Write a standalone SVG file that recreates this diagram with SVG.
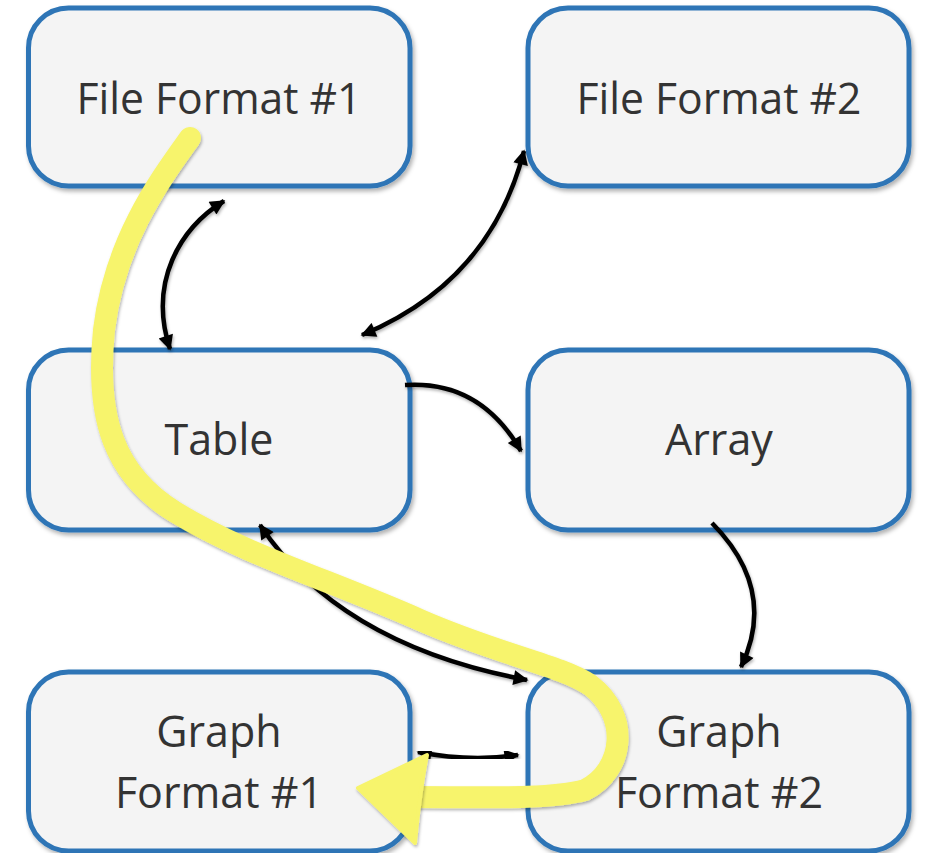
<svg xmlns="http://www.w3.org/2000/svg" width="925" height="853" viewBox="0 0 925 853">
<defs>
<style>
.box{fill:#f4f4f4;stroke:#2e75b6;stroke-width:5;filter:url(#sh)}
.lbl{font-family:"Open Sans","Noto Sans","Liberation Sans",sans-serif;font-size:43px;fill:#333;text-anchor:middle}
.con{fill:none;stroke:#000;stroke-width:4.5;filter:url(#sh2)}
.hl{fill:none;stroke:#f7f46c;stroke-width:22;stroke-linecap:round;stroke-linejoin:round;filter:url(#sh2)}
</style>
<filter id="sh" x="-10%" y="-10%" width="120%" height="130%">
<feDropShadow dx="2" dy="3" stdDeviation="2" flood-color="#000" flood-opacity="0.3"/>
</filter>
<filter id="sh2" x="-10%" y="-10%" width="120%" height="120%">
<feDropShadow dx="1" dy="2" stdDeviation="1.5" flood-color="#000" flood-opacity="0.3"/>
</filter>
<marker id="ah" viewBox="0 0 10 10" refX="9" refY="5" markerWidth="18" markerHeight="15" markerUnits="userSpaceOnUse" orient="auto-start-reverse">
<path d="M0,0 L10,5 L0,10 z" fill="#000"/>
</marker>
</defs>
<g id="ff1"><rect class="box" x="28.5" y="8" width="381.5" height="178" rx="40"/><text class="lbl" x="219" y="114" textLength="285" lengthAdjust="spacingAndGlyphs">File Format #1</text></g>
<g id="ff2"><rect class="box" x="528" y="8" width="381" height="178" rx="40"/><text class="lbl" x="719" y="114" textLength="285" lengthAdjust="spacingAndGlyphs">File Format #2</text></g>
<g id="table"><rect class="box" x="28.5" y="350" width="381.5" height="180" rx="40"/><text class="lbl" x="219" y="455">Table</text></g>
<g id="array"><rect class="box" x="528" y="350" width="381" height="180" rx="40"/><text class="lbl" x="719" y="455">Array</text></g>
<g id="gf1"><rect class="box" x="28.5" y="672" width="381.5" height="179" rx="40"/><text class="lbl" x="219" y="747">Graph</text><text class="lbl" x="219" y="808">Format #1</text></g>
<g id="gf2"><rect class="box" x="528" y="672" width="381" height="179" rx="40"/><text class="lbl" x="719" y="747">Graph</text><text class="lbl" x="719" y="808">Format #2</text></g>
<g id="connectors">
<path class="con" d="M224,201 C180,228 148,282 170,349" marker-start="url(#ah)" marker-end="url(#ah)"/>
<path class="con" d="M524,151 Q490,282 362,335" marker-start="url(#ah)" marker-end="url(#ah)"/>
<path class="con" d="M405,385 Q480,380 521,451" marker-end="url(#ah)"/>
<path class="con" d="M712,523 Q778,590 741,667" marker-end="url(#ah)"/>
<path class="con" d="M260,525 Q340,645 527,680" marker-start="url(#ah)" marker-end="url(#ah)"/>
<path class="con" d="M418,752 Q470,762 518,755" marker-start="url(#ah)" marker-end="url(#ah)"/>
</g>
<g id="highlight">
<path class="hl" d="M190,138 C160,180 115,240 104,330 C95,420 115,475 175,512 C245,555 330,580 420,620 C500,655 560,665 590,685 C630,715 625,770 585,790 C550,800 480,797 410,797"/>
<path d="M358,788 L427,755 Q420,790 415,843 Z" fill="#f7f46c" stroke="#f7f46c" stroke-width="4" stroke-linejoin="round" filter="url(#sh2)"/>
</g>
</svg>
